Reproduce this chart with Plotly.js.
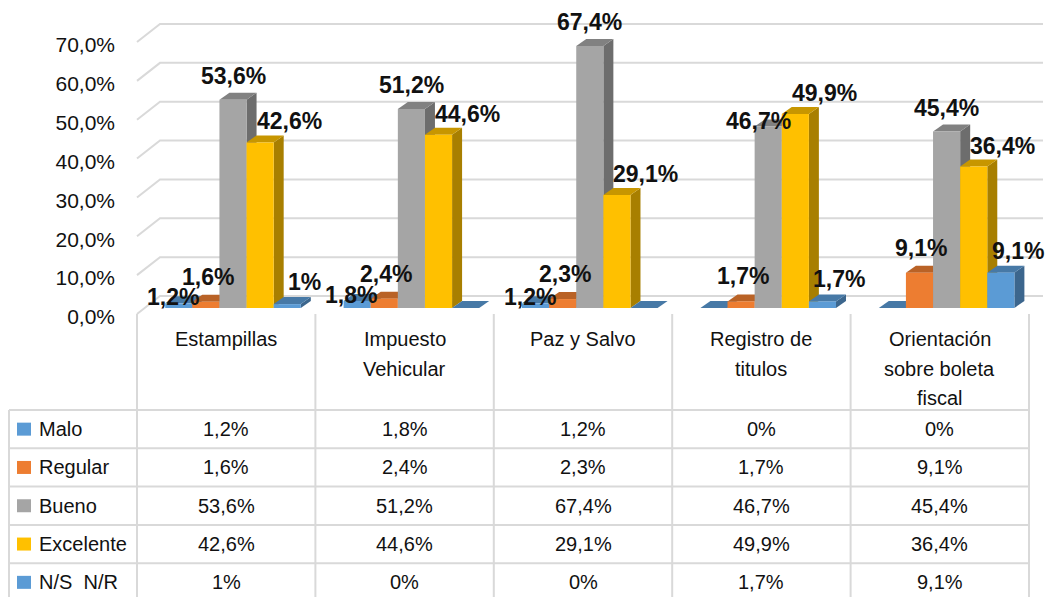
<!DOCTYPE html>
<html><head><meta charset="utf-8">
<script src="https://cdn.plot.ly/plotly-3.0.1.min.js"></script>
<style>html,body{margin:0;padding:0;background:#fff;} #chart{width:1053px;height:597px;}</style>
</head><body><div id="chart"></div>
<script>
// ---------- data ----------
const categories = ['Estampillas', 'Impuesto Vehicular', 'Paz y Salvo', 'Registro de titulos', 'Orientación sobre boleta fiscal'];
const categoryLines = [['Estampillas'], ['Impuesto', 'Vehicular'], ['Paz y Salvo'], ['Registro de', 'titulos'], ['Orientación', 'sobre boleta', 'fiscal']];
const seriesNames = ['Malo', 'Regular', 'Bueno', 'Excelente', 'N/S  N/R'];
const malo      = [1.2, 1.8, 1.2, 0, 0];
const regular   = [1.6, 2.4, 2.3, 1.7, 9.1];
const bueno     = [53.6, 51.2, 67.4, 46.7, 45.4];
const excelente = [42.6, 44.6, 29.1, 49.9, 36.4];
const nsnr      = [1, 0, 0, 1.7, 9.1];
const yTicks    = [0, 10, 20, 30, 40, 50, 60, 70];

// ---------- styles ----------
const seriesValues = [malo, regular, bueno, excelente, nsnr];
const colors = ['#5B9BD5', '#ED7D31', '#A5A5A5', '#FFC000', '#5B9BD5'];
// label offsets per series (px): [xshift, yshift]
const labelOffsets = [[-6, 6], [2, 25], [0, 24], [29, 21], [17, 22]];
const FONT = 'Liberation Sans, Arial, sans-serif';
const TXT = '#111111';
const GRID = '#D9D9D9';

// ---------- geometry ----------
const W = 1053, H = 597;
const M = {l: 137, r: 8, t: 36, b: 289};
const plotW = W - M.l - M.r, plotH = H - M.t - M.b;
const unitPx = 178.4;      // px per category
const groupPx0 = 233;      // px position of first group centre
const yMax = 70;
const xRange = [(M.l - groupPx0) / unitPx, (W - M.r - groupPx0) / unitPx];
const nS = seriesValues.length;
const bargap = 0.24;
const bw = (1 - bargap) / nS;
const depthX = 10 / unitPx;
const depthY = 7 * yMax / plotH;
const baseY = H - M.b;
const pxX = px => (px - M.l) / plotW;
const pxY = py => (baseY - py) / plotH;
const xToPaper = x => (x - xRange[0]) / (xRange[1] - xRange[0]);

function shade(hex, f) {
  const n = parseInt(hex.slice(1), 16);
  const r = Math.round(((n >> 16) & 255) * f), g = Math.round(((n >> 8) & 255) * f), b = Math.round((n & 255) * f);
  return 'rgb(' + r + ',' + g + ',' + b + ')';
}
function fmt(v) {
  return (Number.isInteger(v) ? String(v) : v.toFixed(1).replace('.', ',')) + '%';
}

// ---------- traces (front faces) ----------
const traces = seriesValues.map((vals, k) => ({
  type: 'bar',
  name: seriesNames[k],
  x: categories.map((_, i) => i),
  y: vals,
  marker: {color: colors[k], line: {width: 0}},
  hoverinfo: 'skip',
  showlegend: false
}));

// ---------- shapes ----------
const shapes = [];
// back wall gridlines + left wall diagonals
const frontOff = 6 / plotH, backOff = 12 / plotH;
yTicks.forEach(t => {
  const yf = t / yMax - frontOff, yb = t / yMax + backOff;
  shapes.push({type: 'path', xref: 'paper', yref: 'paper', layer: 'below',
    path: `M ${pxX(137)} ${yf} L ${pxX(160)} ${yb} L ${pxX(1043)} ${yb}`,
    line: {color: GRID, width: 2}});
});
// 3D side faces
seriesValues.forEach((vals, k) => {
  vals.forEach((v, i) => {
    const xl = i + (k - nS / 2) * bw, xr = xl + bw;
    shapes.push({type: 'path', xref: 'x', yref: 'y', layer: 'below',
      path: `M ${xr} 0 L ${xr + depthX} ${depthY} L ${xr + depthX} ${v + depthY} L ${xr} ${v} Z`,
      fillcolor: shade(colors[k], 0.66), line: {width: 0}});
  });
});
// 3D top faces
seriesValues.forEach((vals, k) => {
  vals.forEach((v, i) => {
    const xl = i + (k - nS / 2) * bw, xr = xl + bw;
    shapes.push({type: 'path', xref: 'x', yref: 'y', layer: 'below',
      path: `M ${xl} ${v} L ${xl + depthX} ${v + depthY} L ${xr + depthX} ${v + depthY} L ${xr} ${v} Z`,
      fillcolor: shade(colors[k], 0.78), line: {width: 0}});
  });
});

// ---------- data table ----------
const tableLeftPx = 9, headerTopPx = 314, rowTopPx = 410, rowH = 38.3;
const nCols = categories.length;
const colEdge = k => xToPaper(xRange[0] + k);
const colCenter = k => xToPaper(xRange[0] + k + 0.5);
for (let j = 0; j <= nS; j++) {
  const y = pxY(rowTopPx + j * rowH);
  shapes.push({type: 'line', xref: 'paper', yref: 'paper', x0: pxX(tableLeftPx), x1: colEdge(nCols), y0: y, y1: y,
    line: {color: GRID, width: 2}});
}
shapes.push({type: 'line', xref: 'paper', yref: 'paper', x0: pxX(tableLeftPx), x1: pxX(tableLeftPx),
  y0: pxY(rowTopPx), y1: pxY(H + 10), line: {color: GRID, width: 2}});
for (let k = 0; k <= nCols; k++) {
  shapes.push({type: 'line', xref: 'paper', yref: 'paper', x0: colEdge(k), x1: colEdge(k),
    y0: pxY(headerTopPx), y1: pxY(H + 10), line: {color: GRID, width: 2}});
}
seriesNames.forEach((s, j) => {
  const cy = rowTopPx + j * rowH + rowH / 2;
  shapes.push({type: 'rect', xref: 'paper', yref: 'paper', x0: pxX(17), x1: pxX(31), y0: pxY(cy - 6.5), y1: pxY(cy + 6.5),
    fillcolor: colors[j], line: {width: 0}});
});

// ---------- annotations ----------
const annotations = [];
seriesValues.forEach((vals, k) => {
  vals.forEach((v, i) => {
    if (v === 0) return;
    let [xs, ys] = labelOffsets[k];
    // Bueno label moves aside when the Excelente bar beside it is taller
    if (k === 2 && excelente[i] > v) { xs -= 10; ys -= 18; }
    annotations.push({xref: 'x', yref: 'y', x: i + (k - (nS - 1) / 2) * bw, y: v,
      xshift: xs, yshift: ys,
      text: fmt(v), showarrow: false, xanchor: 'center', yanchor: 'middle',
      font: {family: FONT, size: 23, color: TXT, weight: 'bold'}});
  });
});
categoryLines.forEach((lines, k) => {
  lines.forEach((ln, j) => {
    annotations.push({xref: 'paper', yref: 'paper', x: colCenter(k), y: pxY(339 + j * 29.5),
      text: ln, showarrow: false, xanchor: 'center', yanchor: 'middle',
      font: {family: FONT, size: 20, color: TXT}});
  });
});
seriesNames.forEach((s, j) => {
  const cy = pxY(rowTopPx + j * rowH + rowH / 2);
  annotations.push({xref: 'paper', yref: 'paper', x: pxX(37), y: cy, text: s.replace(/  /g, ' \u00a0'),
    showarrow: false, xanchor: 'left', yanchor: 'middle', font: {family: FONT, size: 20, color: TXT}});
  seriesValues[j].forEach((v, k) => {
    annotations.push({xref: 'paper', yref: 'paper', x: colCenter(k), y: cy, text: fmt(v),
      showarrow: false, xanchor: 'center', yanchor: 'middle', font: {family: FONT, size: 20, color: TXT}});
  });
});

const layout = {
  width: W, height: H,
  margin: M,
  paper_bgcolor: '#ffffff', plot_bgcolor: 'rgba(0,0,0,0)',
  barmode: 'group', bargap: bargap, bargroupgap: 0,
  showlegend: false,
  xaxis: {range: xRange, showgrid: false, zeroline: false, showline: false, showticklabels: false, ticks: '', fixedrange: true},
  yaxis: {range: [0, yMax], tickmode: 'array', tickvals: yTicks,
    ticktext: yTicks.map(t => t.toFixed(1).replace('.', ',') + '%'),
    showgrid: false, zeroline: false, showline: false, ticks: '', ticklabelshift: 9, ticklabelstandoff: 21,
    tickfont: {family: FONT, size: 21, color: TXT}, fixedrange: true},
  shapes: shapes,
  annotations: annotations
};

Plotly.newPlot('chart', traces, layout, {displayModeBar: false, staticPlot: true});
</script>
</body></html>
